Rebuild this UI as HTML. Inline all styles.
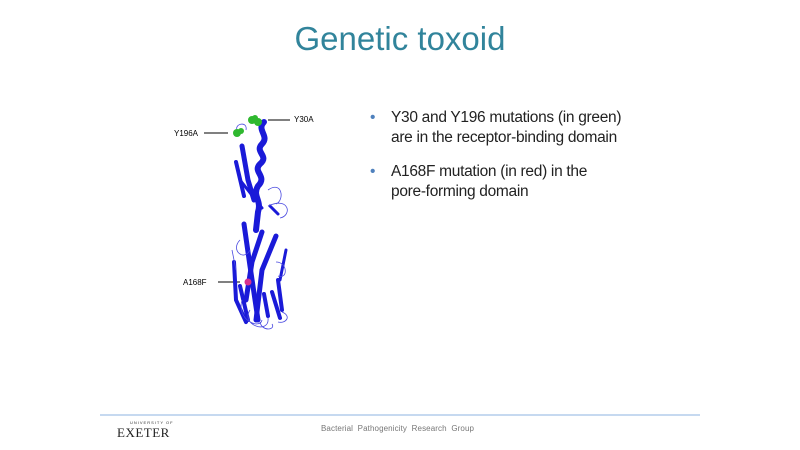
<!DOCTYPE html>
<html><head><meta charset="utf-8"><style>
body{margin:0;width:800px;height:450px;background:#fff;position:relative;overflow:hidden;font-family:"Liberation Sans",sans-serif}
.t{position:absolute;left:0;width:800px;top:20px;text-align:center;font-size:33px;color:#31849b}
.b{position:absolute;font-size:15.5px;color:#222;line-height:20px;letter-spacing:-0.3px}
.b span{position:absolute;left:-21px;color:#4f81bd}
.lab{position:absolute;font-size:8px;color:#000}
</style></head><body>
<div class="t">Genetic toxoid</div>
<div class="b" style="top:108px;left:391px"><span>•</span>Y30 and Y196 mutations (in green)<br>are in the receptor-binding domain</div>
<div class="b" style="top:162px;left:391px"><span>•</span>A168F mutation (in red) in the<br>pore-forming domain</div>
<div class="lab" style="left:294px;top:115px">Y30A</div>
<div class="lab" style="left:174px;top:129px">Y196A</div>
<div class="lab" style="left:183px;top:278px">A168F</div>
<svg width="800" height="450" style="position:absolute;left:0;top:0">
<g stroke="#000" stroke-width="1"><line x1="268" y1="120" x2="290" y2="120"/><line x1="204" y1="133" x2="228" y2="133"/><line x1="218" y1="282" x2="240" y2="282"/></g>
<g fill="none" stroke="#1a1ad8" stroke-linecap="round">
<path d="M264 122 C256 130 270 136 262 144 C254 152 270 156 260 164 C252 172 268 176 258 186 C252 196 262 200 258 212 L256 230" stroke-width="6"/>
<path d="M242 146 L248 180 L254 200" stroke-width="5"/>
<path d="M236 162 L244 196" stroke-width="4"/>
<path d="M240 180 L262 208" stroke-width="3"/>
<path d="M270 206 L278 214" stroke-width="3"/>
<path d="M262 232 L252 262 L246 300" stroke-width="5"/>
<path d="M276 236 L262 270 L256 320" stroke-width="5"/>
<path d="M244 224 L250 266 L258 320" stroke-width="5"/>
<path d="M234 262 L236 300 L246 322" stroke-width="4"/>
<path d="M278 280 L282 310" stroke-width="4"/>
<path d="M272 292 L280 318" stroke-width="4"/>
<path d="M240 286 L248 320" stroke-width="4"/>
<path d="M286 250 L280 280" stroke-width="3"/>
<path d="M264 294 L268 316" stroke-width="4"/>
</g>
<g fill="none" stroke="#4a4ae0" stroke-width="0.8">
<path d="M238 132 C232 124 248 120 246 130 M268 190 C282 180 285 200 276 204 M268 206 C290 196 292 216 280 218 M240 240 C230 250 244 262 250 250 M276 262 C288 262 288 280 278 276 M242 300 C236 320 260 330 262 320 M232 250 L236 270 M250 310 C240 325 270 335 268 318 M282 312 C292 316 286 324 278 322 M260 322 C262 332 276 330 272 324"/>
</g>
<g fill="#2fb82f"><circle cx="252" cy="120" r="4"/><circle cx="258" cy="122" r="4"/><circle cx="255" cy="118" r="3"/><circle cx="237" cy="133" r="4"/><circle cx="241" cy="131" r="3"/></g>
<circle cx="248" cy="282" r="3.5" fill="#d62f8e"/>
<line x1="100" y1="415" x2="700" y2="415" stroke="#8db3e2" stroke-width="1"/>
</svg>
<div style="position:absolute;left:130px;top:420px;font-size:4px;letter-spacing:1px;color:#333">UNIVERSITY OF</div>
<div style="position:absolute;left:117px;top:425px;font-family:'Liberation Serif',serif;font-size:13px;color:#222;letter-spacing:0.5px">EXETER</div>
<div style="position:absolute;left:321px;top:424px;font-size:8px;color:#777;letter-spacing:0.1px">Bacterial&nbsp; Pathogenicity&nbsp; Research&nbsp; Group</div>
</body></html>
